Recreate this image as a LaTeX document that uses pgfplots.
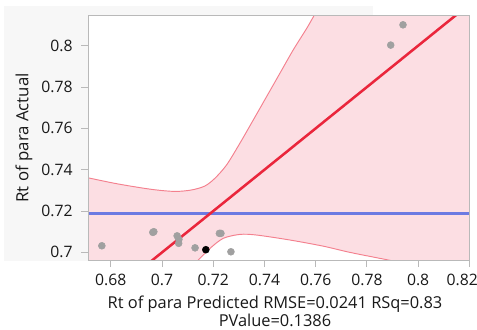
\documentclass[border=0pt]{standalone}
\usepackage{pgfplots}
\pgfplotsset{compat=1.18}
\usepackage{fontspec}
\setmainfont{Open Sans}
\definecolor{bandfill}{RGB}{252,222,227}
\definecolor{bandline}{RGB}{244,128,142}
\definecolor{fitred}{RGB}{234,38,60}
\definecolor{meanblue}{RGB}{108,122,226}
\definecolor{ptgray}{RGB}{160,160,160}
\definecolor{axgray}{RGB}{185,185,185}
\definecolor{panelgray}{RGB}{247,247,247}
\begin{document}
\begin{tikzpicture}
% picture frame: 1px = 0.75pt, axis SW corner at origin
\useasboundingbox (-66.2pt,-51.75pt) rectangle (291.5pt,195pt);
\fill[panelgray] (-63.2pt,-0.75pt) rectangle (213.5pt,190.5pt);
\begin{axis}[
  scale only axis,
  width=285.75pt, height=183.2pt,
  xmin=0.6712, xmax=0.82,
  ymin=0.6963, ymax=0.8145,
  axis background/.style={fill=white},
  axis on top=true,
  axis line style={axgray, line width=0.8pt},
  tick align=outside,
  major tick length=5.25pt,
  tick style={axgray, line width=0.8pt},
  xtick={0.68,0.7,0.72,0.74,0.76,0.78,0.8,0.82},
  xticklabels={0.68,0.7,0.72,0.74,0.76,0.78,0.8,\hspace*{-10.5pt}0.82},
  ytick={0.7,0.72,0.74,0.76,0.78,0.8},
  xtick pos=bottom, ytick pos=left,
  /pgf/number format/assume math mode=true,
  /pgf/number format/fixed,
  /pgf/number format/precision=2,
  tick label style={font=\fontsize{11.8}{13}\selectfont, text=black!90},
  yticklabel style={xshift=-3pt},
  xticklabel style={yshift=-2pt},
  xlabel={Rt of para Predicted RMSE=0.0241 RSq=0.83\\PValue=0.1386},
  ylabel={Rt of para Actual},
  xlabel style={at={(axis description cs:0.49,-0.2085)}, anchor=center, align=center, font=\fontsize{12.3}{13.7}\selectfont, text=black!90},
  ylabel style={at={(axis description cs:-0.1687,0.5)}, anchor=center, font=\fontsize{12.6}{13}\selectfont, text=black!90},
  clip=true,
]
% confidence band fill
\addplot[fill=bandfill, draw=none] coordinates {
  (0.6700,0.7366) (0.6711,0.7361) (0.6829,0.7331) (0.6959,0.7305) (0.7050,0.7295)
  (0.7115,0.7302) (0.7167,0.7321) (0.7206,0.7358) (0.7252,0.7423) (0.7304,0.7528)
  (0.7356,0.7640) (0.7408,0.7753) (0.7460,0.7866) (0.7512,0.7979) (0.7565,0.8084)
  (0.7591,0.8140) (0.7665,0.8300) (0.8300,0.8300) (0.8300,0.6900) (0.8139,0.6900)
  (0.7884,0.6963) (0.7734,0.7000) (0.7630,0.7030) (0.7499,0.7060) (0.7369,0.7084)
  (0.7304,0.7087) (0.7239,0.7068) (0.7187,0.7019) (0.7135,0.6955) (0.7090,0.6900)
  (0.6700,0.6900)
} -- cycle;
% upper band line
\addplot[bandline, line width=0.7pt, smooth] coordinates {
  (0.6700,0.7366) (0.6711,0.7361) (0.6829,0.7331) (0.6959,0.7305) (0.7050,0.7295)
  (0.7115,0.7302) (0.7167,0.7321) (0.7206,0.7358) (0.7252,0.7423) (0.7304,0.7528)
  (0.7356,0.7640) (0.7408,0.7753) (0.7460,0.7866) (0.7512,0.7979) (0.7565,0.8084)
  (0.7591,0.8140) (0.7665,0.8300)
};
% lower band line
\addplot[bandline, line width=0.7pt, smooth] coordinates {
  (0.7090,0.6900) (0.7135,0.6955) (0.7187,0.7019) (0.7239,0.7068) (0.7304,0.7087)
  (0.7369,0.7084) (0.7499,0.7060) (0.7630,0.7030) (0.7734,0.7000) (0.7884,0.6963)
  (0.8139,0.6900)
};
% mean line
\addplot[meanblue, line width=2.3pt] coordinates {(0.66,0.7190) (0.83,0.7190)};
% fit line
\addplot[fitred, line width=1.9pt] coordinates {(0.66,0.66) (0.83,0.83)};
% points
\addplot[only marks, mark=*, mark size=2.6pt, mark options={fill=ptgray, draw=ptgray}] coordinates {
  (0.6765,0.7032) (0.6964,0.7097) (0.6968,0.7100)
  (0.7059,0.7080) (0.7066,0.7063) (0.7065,0.7044)
  (0.7129,0.7022) (0.7224,0.7092) (0.7230,0.7092)
  (0.7269,0.7003) (0.7893,0.8003) (0.7941,0.8101)
};
\addplot[only marks, mark=*, mark size=2.6pt, mark options={fill=black, draw=black}] coordinates {
  (0.7171,0.7013)
};
\end{axis}
\end{tikzpicture}
\end{document}
